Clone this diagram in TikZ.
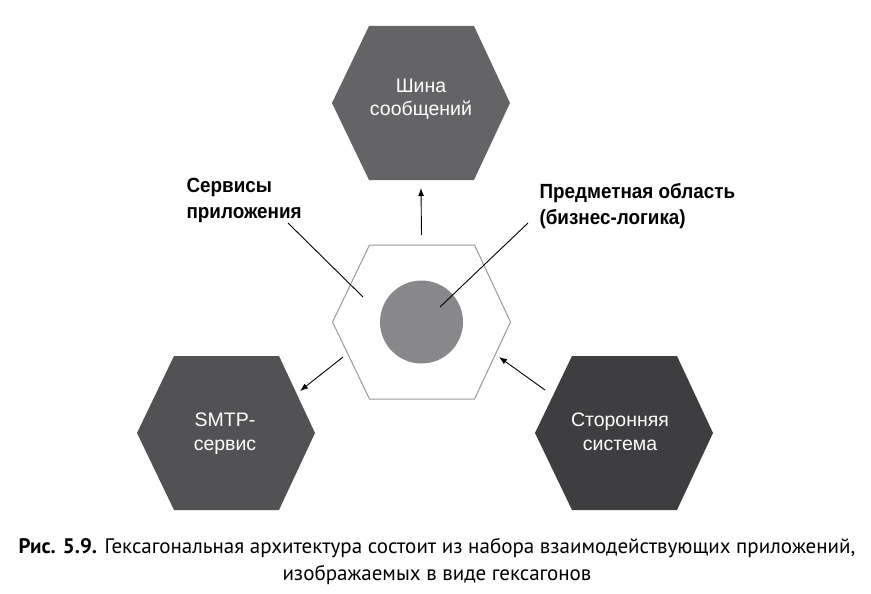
\documentclass[tikz,border=0pt]{standalone}
\usepackage{fontspec}
\setmainfont{Liberation Sans}
\newfontfamily\lblfont[FakeStretch=0.92]{Liberation Sans}
\newfontfamily\capfont{PT Sans}
\usetikzlibrary{arrows.meta,calc}
\definecolor{busgray}{HTML}{646466}
\definecolor{smtpgray}{HTML}{525254}
\definecolor{extgray}{HTML}{3E3E40}
\definecolor{coregray}{HTML}{88888B}
\definecolor{hexline}{HTML}{9A9A9A}
\newcommand\hexshape[2]{%
  \path[#2] ($(#1)+(-89,0)$) -- ++(37,-77) -- ++(105,0) -- ++(36,77)
    -- ++(-36,77) -- ++(-105,0) -- cycle;}
\tikzset{
  hextext/.style={text=white, align=center, anchor=base, font=\fontsize{19.5}{23.5}\selectfont},
  labeltext/.style={align=left, font=\lblfont\bfseries\fontsize{20.5}{26}\selectfont, anchor=base west},
  arr/.style={-{Latex[length=8pt,width=6pt]}, line width=0.9pt, black},
  lead/.style={line width=0.9pt, black}
}
\begin{document}
\begin{tikzpicture}[x=1pt,y=-1pt]
\useasboundingbox (0,0) rectangle (871,594);
% centres
\coordinate (corec) at (421.5,322);
\coordinate (busc) at (421,103);
\coordinate (smtpc) at (226,433);
\coordinate (extc) at (624,433);
% hexagons
\hexshape{corec}{draw=hexline, line width=1pt, fill=white}
\hexshape{busc}{fill=busgray}
\hexshape{smtpc}{fill=smtpgray}
\hexshape{extc}{fill=extgray}
\node[circle, fill=coregray, minimum size=83pt, inner sep=0pt] (core) at (corec) {};
\node[hextext] (bus) at ($(busc)+(0,13)$) {Шина\\сообщений};
\node[hextext] (smtp) at ($(smtpc)+(-1,17)$) {SMTP-\\сервис};
\node[hextext] (ext) at ($(extc)+(-4,17)$) {Сторонняя\\система};
% labels
\node[labeltext] (applbl) at (183,218) {Сервисы\\приложения};
\node[labeltext] (domlbl) at (536,224) {Предметная область\\(бизнес-логика)};
% arrows
\draw[arr] ($(corec)+(0,-87)$) -- ($(busc)+(0,85)$);
\draw[arr] ($(corec)+(-78.5,35)$) -- ($(smtpc)+(74,-42)$);
\draw[arr] ($(extc)+(-79,-43)$) -- ($(corec)+(77.5,35)$);
% leader lines
\draw[lead] (288,223) -- (363,297);
\draw[lead] (528,223) -- (440,307);
% caption
\node[font=\capfont\fontsize{21}{27}\selectfont, align=center, anchor=base] (cap) at (437,580)
  {\textbf{Рис. 5.9.} Гексагональная архитектура состоит из набора взаимодействующих приложений,\\изображаемых в виде гексагонов};
\end{tikzpicture}
\end{document}
